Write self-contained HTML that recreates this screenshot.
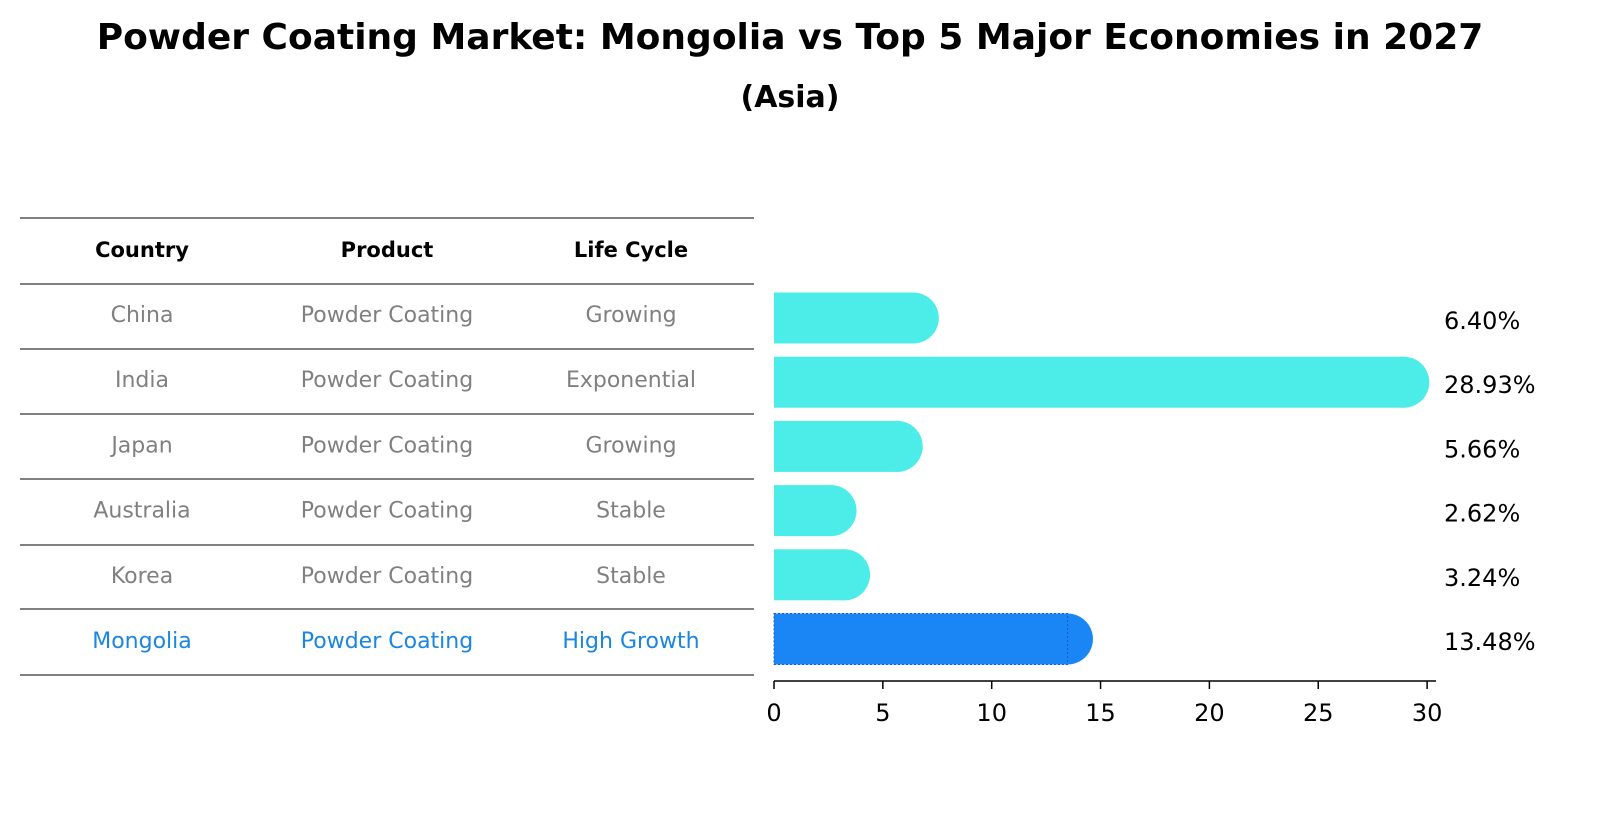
<!DOCTYPE html>
<html><head><meta charset="utf-8"><style>
body{margin:0;background:#fff;font-family:"Liberation Sans","DejaVu Sans",sans-serif;}
</style></head><body>
<svg width="1604" height="823" xmlns="http://www.w3.org/2000/svg" font-family="'DejaVu Sans','Liberation Sans',sans-serif">
<text x="790" y="49" text-anchor="middle" font-size="36" font-weight="bold">Powder Coating Market: Mongolia vs Top 5 Major Economies in 2027</text>
<text x="790" y="107" text-anchor="middle" font-size="30" font-weight="bold">(Asia)</text>
<g id="table"></g>
<g id="bars"></g>
<g id="axis"></g>
</svg>
<script>
const countries=["China","India","Japan","Australia","Korea","Mongolia"];
const products=["Powder Coating","Powder Coating","Powder Coating","Powder Coating","Powder Coating","Powder Coating"];
const lifecycles=["Growing","Exponential","Growing","Stable","Stable","High Growth"];
const values=[6.40,28.93,5.66,2.62,3.24,13.48];
const ticks=[0,5,10,15,20,25,30];
const NS="http://www.w3.org/2000/svg";
function mk(tag,attrs,parent,text){const e=document.createElementNS(NS,tag);for(const k in attrs)e.setAttribute(k,attrs[k]);if(text!==undefined)e.textContent=text;parent.appendChild(e);return e;}
const x=v=>774+v*21.77;
const rowY=i=>318+i*64.2;
const tbl=document.getElementById('table');
const lineYs=[218,284,349,414,479,545,609,675];
lineYs.forEach(y=>{const l=mk('line',{x1:20,x2:754,y1:y,y2:y,stroke:'#000','stroke-width':1},tbl);

});
const colX=[142,387,631];
["Country","Product","Life Cycle"].forEach((h,j)=>{const t=mk('text',{x:colX[j],y:257,'text-anchor':'middle','font-size':21,'font-weight':'bold'},tbl,h);

});
countries.forEach((c,i)=>{const last=i===countries.length-1;const fill=last?'#1a86e0':'#808080';const y=322+i*65.2;
[c,products[i],lifecycles[i]].forEach((v,j)=>{const t=mk('text',{x:colX[j],y:y,'text-anchor':'middle','font-size':22,fill:fill},tbl,v);

});});
const bars=document.getElementById('bars');
values.forEach((v,i)=>{const last=i===values.length-1;const cy=rowY(i);const h=51;const col=last?'#1a86f5':'#4cece8';
const g=mk('g',{},bars);


mk('rect',{x:x(0),y:cy-h/2,width:Math.max(0,x(v)-x(0)),height:h,fill:col},g);
mk('circle',{cx:x(v),cy:cy,r:h/2,fill:col},g);
if(last){mk('rect',{x:x(0),y:cy-h/2,width:Math.max(0,x(v)-x(0)),height:h,fill:'none',stroke:'#1060c0','stroke-width':1,'stroke-dasharray':'2,2'},g);}
const t=mk('text',{x:1444,y:cy+11,'font-size':24},bars,v.toFixed(2)+'%');

});
const ax=document.getElementById('axis');
mk('line',{x1:774,x2:1436,y1:681,y2:681,stroke:'#000','stroke-width':1.5},ax);
ticks.forEach(tk=>{mk('line',{x1:x(tk),x2:x(tk),y1:681,y2:689,stroke:'#000','stroke-width':1.5},ax);
const t=mk('text',{x:x(tk),y:721,'text-anchor':'middle','font-size':24},ax,tk);

});
</script>
</body></html>
